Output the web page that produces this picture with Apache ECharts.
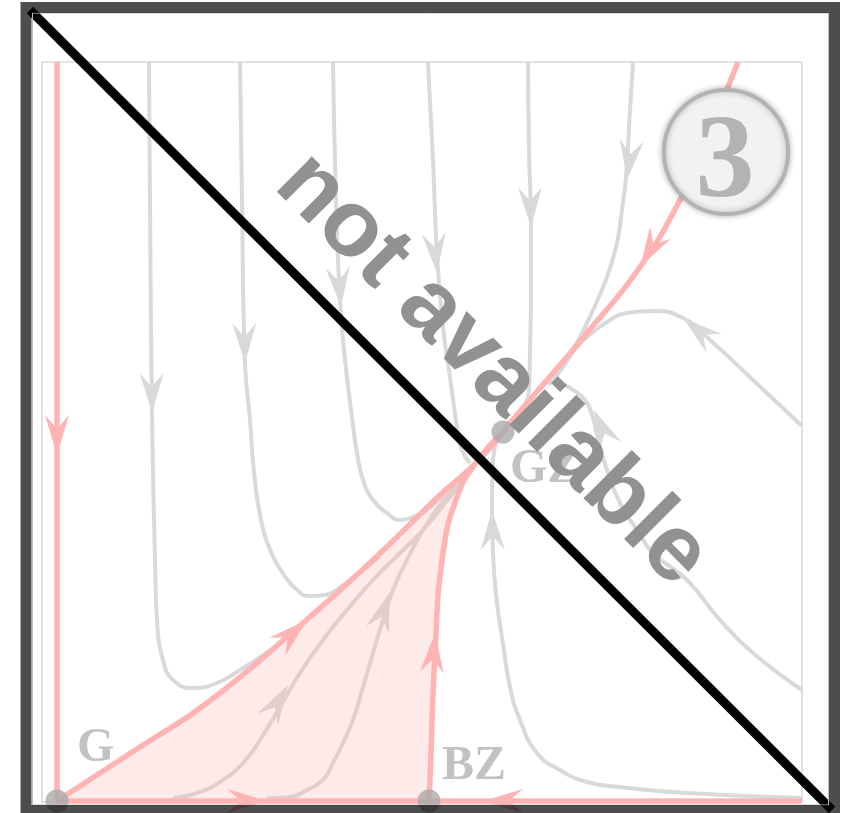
<!DOCTYPE html>
<html>
<head>
<meta charset="utf-8">
<script src="https://cdn.jsdelivr.net/npm/echarts@6.0.0/dist/echarts.min.js"></script>
<style>
  html, body { margin: 0; padding: 0; background: #ffffff; }
  #chart { width: 848px; height: 813px; }
</style>
</head>
<body>
<div id="chart"></div>
<script>
// Phase plane in plot units: x 0..760, y 0..740
const xRange = [0, 760];
const yRange = [0, 740];

// Equilibria
const equilibria = [[15, 1], [387, 1], [461, 370]];
const equilibriumNames = ['G', 'BZ', 'GZ'];

// Separatrices, points listed in the direction of the flow
const sepLeft = [[15, 740], [15, 1]];
const sepBaseG = [[15, 1], [387, 1]];
const sepBaseRight = [[760, 1], [387, 1]];
const sepFromG = [[15, 1], [98, 55], [165, 99], [261, 179], [331, 242], [398, 307], [433, 338], [461, 370]];
const sepFromBZ = [[387, 1], [388, 22], [393, 149], [401, 249], [415, 305], [433, 338], [461, 370]];
const sepFromTop = [[696, 740], [686, 715], [663, 657], [638, 602], [598, 535], [545, 469], [505, 422], [468, 379], [461, 370]];
const basinMerge = [433, 338];

// Ordinary trajectories
const flowA = [[107, 740], [108, 602], [110, 389], [113, 242], [115, 182], [121, 142], [131, 122], [151, 114], [175, 119], [198, 132], [211, 140], [238, 159]];
const flowB = [[198, 740], [200, 602], [203, 439], [208, 382], [212, 330], [219, 282], [229, 250], [240, 230], [253, 214], [267, 206], [283, 207], [300, 216], [320, 231], [338, 246]];
const flowC = [[291, 740], [294, 602], [298, 502], [303, 442], [311, 377], [315, 349], [321, 322], [331, 302], [345, 289], [358, 282], [371, 285], [385, 292], [403, 310]];
const flowD = [[386, 740], [391, 642], [395, 547], [401, 475], [408, 425], [415, 375], [420, 352], [428, 339]];
const flowE = [[486, 740], [487, 652], [489, 575], [489, 509], [488, 452], [487, 412], [480, 392]];
const flowF = [[591, 740], [588, 692], [584, 625], [580, 592], [575, 559], [565, 525], [551, 492], [535, 459], [521, 435], [506, 417]];
const flowG = [[760, 376], [711, 422], [668, 462], [641, 484], [611, 491], [585, 489], [565, 480], [545, 465], [531, 450], [516, 430]];
const flowH = [[760, 112], [711, 149], [678, 182], [645, 222], [611, 249], [595, 272], [578, 299], [565, 332], [556, 362], [551, 384], [543, 402], [528, 414], [510, 424]];
const flowI = [[760, 4], [645, 9], [578, 15], [545, 20], [518, 32], [495, 49], [478, 82], [468, 115], [460, 165], [455, 199], [451, 249], [450, 299], [451, 342], [455, 362]];
const flowJ = [[131, 4], [158, 10], [181, 22], [201, 39], [218, 62], [238, 95], [258, 129], [281, 162], [305, 192], [331, 222], [358, 249], [381, 272], [403, 299], [428, 332]];
const flowK = [[225, 4], [248, 5], [265, 12], [281, 22], [291, 39], [301, 59], [311, 82], [321, 115], [331, 149], [341, 182], [351, 212], [365, 242], [381, 272], [398, 297], [423, 329]];

// Arrow tips: [x, y, trajectory]
const sepArrows = [
  [15, 347, 'sepLeft'], [225, 1, 'sepBaseG'], [441, 1, 'sepBaseRight'],
  [265, 182, 'sepFromG'], [393, 169, 'sepFromBZ'], [598, 535, 'sepFromTop']
];
const flowArrows = [
  [110, 389, 'flowA'], [203, 439, 'flowB'], [299, 495, 'flowC'], [395, 529, 'flowD'],
  [489, 575, 'flowE'], [585, 622, 'flowF'], [641, 484, 'flowG'], [552, 392, 'flowH'],
  [450, 292, 'flowI'], [246, 117, 'flowJ'], [348, 210, 'flowK']
];

const curves = {
  sepLeft, sepBaseG, sepBaseRight, sepFromG, sepFromBZ, sepFromTop,
  flowA, flowB, flowC, flowD, flowE, flowF, flowG, flowH, flowI, flowJ, flowK
};

const SEP_COLOR = '#ffb3b3';
const FLOW_COLOR = '#d9d9d9';

// Basin of attraction bounded by the two separatrices from G and BZ
function basinOutline() {
  const iG = sepFromG.findIndex(p => p[0] === basinMerge[0] && p[1] === basinMerge[1]);
  const iB = sepFromBZ.findIndex(p => p[0] === basinMerge[0] && p[1] === basinMerge[1]);
  return sepFromG.slice(0, iG + 1).concat(sepFromBZ.slice(0, iB).reverse());
}

function nearestSegment(pts, x, y) {
  let best = 0, bestD = Infinity;
  for (let i = 0; i < pts.length - 1; i++) {
    const x1 = pts[i][0], y1 = pts[i][1], x2 = pts[i + 1][0], y2 = pts[i + 1][1];
    const dx = x2 - x1, dy = y2 - y1;
    const len2 = dx * dx + dy * dy;
    let t = len2 ? ((x - x1) * dx + (y - y1) * dy) / len2 : 0;
    t = Math.max(0, Math.min(1, t));
    const ex = x1 + t * dx - x, ey = y1 + t * dy - y;
    const d = ex * ex + ey * ey;
    if (d < bestD - 1e-9) { bestD = d; best = i; }
  }
  return [pts[best], pts[best + 1]];
}

function arrowRenderer(list, color) {
  return function (params, api) {
    const entry = list[params.dataIndex];
    const seg = nearestSegment(curves[entry[2]], entry[0], entry[1]);
    const a = api.coord(seg[0]), b = api.coord(seg[1]);
    let dx = b[0] - a[0], dy = b[1] - a[1];
    const len = Math.hypot(dx, dy) || 1;
    dx /= len; dy /= len;
    const tip = api.coord([entry[0], entry[1]]);
    const nx = -dy, ny = dx;
    const L = 40, W = 12, N = 26;
    const bx = tip[0] - L * dx, by = tip[1] - L * dy;
    return {
      type: 'polygon',
      shape: { points: [tip, [bx + W * nx, by + W * ny], [tip[0] - N * dx, tip[1] - N * dy], [bx - W * nx, by - W * ny]] },
      style: { fill: color }
    };
  };
}

function trajectory(points, color, width, z) {
  return {
    type: 'line', data: points, smooth: 0.5, symbol: 'none', silent: true, z: z,
    lineStyle: { color: color, width: width }
  };
}

const flowNames = ['flowA', 'flowB', 'flowC', 'flowD', 'flowE', 'flowF', 'flowG', 'flowH', 'flowI', 'flowJ', 'flowK'];
const sepNames = ['sepLeft', 'sepBaseG', 'sepBaseRight', 'sepFromG', 'sepFromBZ', 'sepFromTop'];

const labelOffsets = [[20, -52], [13, -34], [7, 38]];

const series = [];
flowNames.forEach(n => series.push(trajectory(curves[n], FLOW_COLOR, 4, 1)));
series.push({
  type: 'custom', z: 2, silent: true,
  data: flowArrows.map(a => [a[0], a[1]]),
  renderItem: arrowRenderer(flowArrows, FLOW_COLOR)
});
series.push({
  type: 'custom', z: 3, silent: true,
  data: [basinMerge],
  renderItem: function (params, api) {
    return {
      type: 'polygon',
      shape: { points: basinOutline().map(p => api.coord(p)) },
      style: { fill: 'rgba(255,179,179,0.27)' }
    };
  }
});
sepNames.forEach(n => series.push(trajectory(curves[n], SEP_COLOR, 5.5, 4)));
series.push({
  type: 'custom', z: 5, silent: true,
  data: sepArrows.map(a => [a[0], a[1]]),
  renderItem: arrowRenderer(sepArrows, SEP_COLOR)
});
series.push({
  type: 'scatter', z: 6, silent: true,
  symbolSize: 23,
  itemStyle: { color: '#aaaaaa' },
  data: equilibria.map((p, i) => ({
    value: p,
    label: { offset: labelOffsets[i] }
  })),
  label: {
    show: true, position: 'inside', align: 'left', verticalAlign: 'middle',
    formatter: p => equilibriumNames[p.dataIndex],
    fontFamily: '"Liberation Serif", serif', fontWeight: 'bold', fontSize: 48,
    color: '#b3b3b3'
  }
});

const chart = echarts.init(document.getElementById('chart'), null, { renderer: 'canvas' });
chart.setOption({
  animation: false,
  backgroundColor: '#ffffff',
  grid: {
    left: 42, top: 62, width: 760, height: 740,
    show: true, borderColor: '#c4c4c4', borderWidth: 1, backgroundColor: 'transparent'
  },
  xAxis: { type: 'value', min: xRange[0], max: xRange[1], show: false },
  yAxis: { type: 'value', min: yRange[0], max: yRange[1], show: false },
  series: series,
  graphic: {
    elements: [
      {
        type: 'circle', z: 50, silent: true,
        shape: { cx: 726, cy: 152, r: 62 },
        style: { fill: '#f2f2f2', stroke: '#b3b3b3', lineWidth: 4, shadowBlur: 6, shadowColor: 'rgba(0,0,0,0.25)' }
      },
      {
        type: 'text', z: 51, silent: true, x: 725, y: 166,
        style: {
          text: '3', font: 'bold 118px "Liberation Serif", serif', fill: '#b3b3b3',
          align: 'center', verticalAlign: 'middle', textAlign: 'center', textVerticalAlign: 'middle'
        }
      },
      {
        type: 'text', z: 60, silent: true, x: 492, y: 370, rotation: -Math.PI / 4,
        style: {
          text: 'not available', font: 'bold 94px "Liberation Sans", sans-serif', fill: '#919191',
          align: 'center', verticalAlign: 'middle', textAlign: 'center', textVerticalAlign: 'middle'
        }
      },
      {
        type: 'line', z: 61, silent: true,
        shape: { x1: 30, y1: 10, x2: 832, y2: 810 },
        style: { stroke: '#000000', lineWidth: 9 }
      },
      {
        type: 'rect', z: 69, silent: true,
        shape: { x: 32.5, y: 13, width: 796, height: 792 },
        style: { fill: 'none', stroke: '#c0c0c0', lineWidth: 1 }
      },
      {
        type: 'rect', z: 70, silent: true,
        shape: { x: 26, y: 7.5, width: 808.5, height: 803 },
        style: { fill: 'none', stroke: '#4d4d4d', lineWidth: 11, blend: 'multiply' }
      }
    ]
  }
});
</script>
</body>
</html>
